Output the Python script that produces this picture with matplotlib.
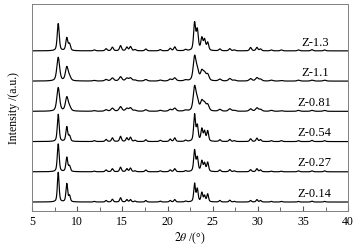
import numpy as np
import matplotlib
matplotlib.use("Agg")
import matplotlib.pyplot as plt
from matplotlib.ticker import MultipleLocator

# peak positions (2theta, deg)
peak_pos = [7.9, 8.85, 9.15, 11.9, 13.2, 13.9, 14.8, 15.5, 15.9, 16.4, 17.6, 19.2,
            20.3, 20.8, 22.0, 23.0, 23.3, 23.8, 24.1, 24.45, 25.8, 26.9, 27.4,
            29.2, 29.9, 30.3, 31.5, 32.6, 34.5, 36.0, 37.4]

samples = ["Z-0.14", "Z-0.27", "Z-0.54", "Z-0.81", "Z-1.1", "Z-1.3"]

# peak heights per sample (1 unit = spacing between patterns)
h_z014 = [0.98, 0.60, 0.20, 0.02, 0.05, 0.09, 0.14, 0.08, 0.08, 0.03, 0.05, 0.03,
          0.05, 0.08, 0.03, 0.60, 0.42, 0.30, 0.20, 0.26, 0.05, 0.06, 0.02,
          0.05, 0.08, 0.05, 0.02, 0.02, 0.02, 0.03, 0.02]
h_z027 = [0.92, 0.47, 0.18, 0.02, 0.06, 0.10, 0.15, 0.10, 0.12, 0.03, 0.06, 0.03,
          0.06, 0.10, 0.03, 0.70, 0.45, 0.34, 0.27, 0.30, 0.06, 0.07, 0.03,
          0.07, 0.10, 0.06, 0.02, 0.02, 0.03, 0.03, 0.03]
h_z054 = [0.90, 0.48, 0.18, 0.03, 0.07, 0.12, 0.17, 0.12, 0.14, 0.04, 0.06, 0.04,
          0.08, 0.12, 0.04, 0.88, 0.50, 0.40, 0.32, 0.34, 0.06, 0.07, 0.03,
          0.09, 0.11, 0.06, 0.03, 0.03, 0.03, 0.04, 0.03]
h_z081 = [0.78, 0.45, 0.12, 0.02, 0.05, 0.10, 0.15, 0.09, 0.11, 0.03, 0.05, 0.03,
          0.06, 0.10, 0.03, 0.78, 0.32, 0.30, 0.22, 0.20, 0.06, 0.08, 0.03,
          0.08, 0.11, 0.06, 0.03, 0.02, 0.03, 0.03, 0.03]
h_z11 = [0.78, 0.45, 0.12, 0.02, 0.05, 0.10, 0.14, 0.09, 0.10, 0.03, 0.05, 0.03,
         0.06, 0.10, 0.03, 0.78, 0.32, 0.30, 0.22, 0.20, 0.06, 0.08, 0.03,
         0.08, 0.11, 0.06, 0.03, 0.02, 0.03, 0.03, 0.03]
h_z13 = [0.90, 0.42, 0.22, 0.03, 0.07, 0.12, 0.17, 0.12, 0.14, 0.04, 0.06, 0.04,
         0.08, 0.13, 0.04, 0.90, 0.66, 0.40, 0.35, 0.26, 0.06, 0.07, 0.03,
         0.11, 0.11, 0.06, 0.03, 0.03, 0.03, 0.04, 0.03]
heights = [h_z014, h_z027, h_z054, h_z081, h_z11, h_z13]

# half widths of the peaks for each sample (deg)
half_width = [0.11, 0.12, 0.12, 0.18, 0.18, 0.13]

x_ticks = [5, 10, 15, 20, 25, 30, 35, 40]

plt.rcParams['font.family'] = ['Liberation Serif', 'DejaVu Serif']
plt.rcParams['mathtext.fontset'] = 'stix'

fig = plt.figure(figsize=(3.6, 2.51), dpi=100)
ax = fig.add_axes([0.089, 0.155, 0.878, 0.825])

two_theta = np.linspace(5, 40, 3000)
for i, (name, h, w) in enumerate(zip(samples, heights, half_width)):
    y = np.zeros_like(two_theta)
    for p, a in zip(peak_pos, h):
        d = (two_theta - p) / w
        # pseudo-Voigt profile
        y += a * (0.5 / (1 + d ** 2) + 0.5 * np.exp(-np.log(2) * d ** 2))
    ax.plot(two_theta, y + i, color='black', lw=0.85)
    ax.text(36.3, i + 0.31, name, ha='center', va='center', fontsize=9)

ax.set_xlim(5, 40)
ax.set_ylim(-0.3, 6.55)
ax.set_xticks(x_ticks)
ax.xaxis.set_minor_locator(MultipleLocator(2.5))
ax.set_yticks([])
ax.tick_params(axis='x', which='both', direction='in', top=False, colors='#555555',
               labelcolor='black', labelsize=8.5, pad=3)
ax.tick_params(axis='x', which='major', length=3.5)
ax.tick_params(axis='x', which='minor', length=3)
for s in ax.spines.values():
    s.set_color('#808080')
    s.set_linewidth(0.7)

ax.set_xlabel(r'$\mathit{2\theta}$ /(°)', fontsize=8.5, labelpad=2)
ax.set_ylabel('Intensity /(a.u.)', fontsize=8.5, labelpad=9)

fig.savefig('out.png', dpi=100)
